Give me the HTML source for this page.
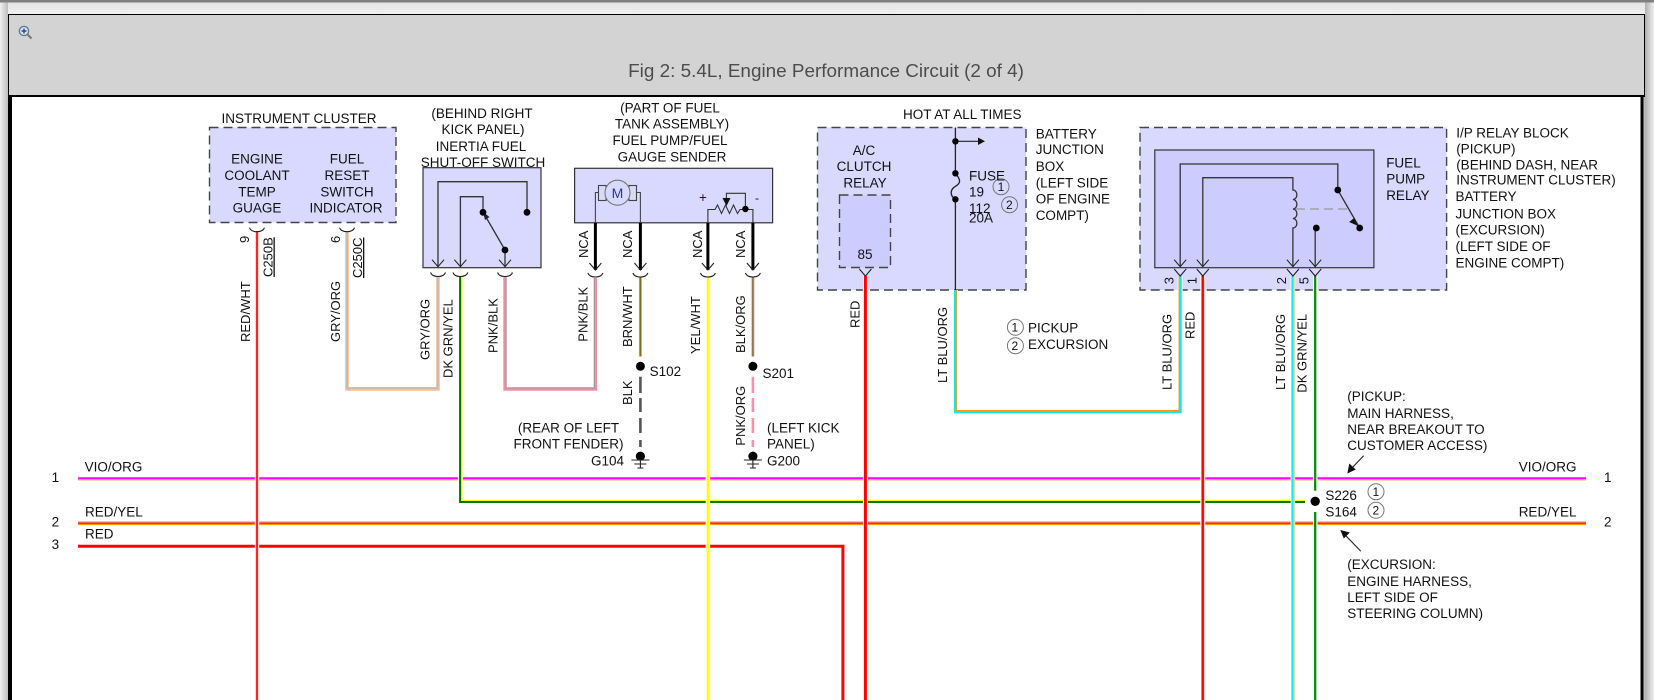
<!DOCTYPE html>
<html><head><meta charset="utf-8"><style>
html,body{margin:0;padding:0;width:1654px;height:700px;overflow:hidden;background:#ececec}
svg{position:absolute;left:0;top:0}
text{font-family:"Liberation Sans",Arial,sans-serif;font-size:13.5px;fill:#111}
.r text{font-size:13px}
.m{text-anchor:middle}
</style></head><body>
<svg width="1654" height="700" viewBox="0 0 1654 700" xmlns="http://www.w3.org/2000/svg">
<defs>
<linearGradient id="tg" x1="0" y1="0" x2="0" y2="1"><stop offset="0" stop-color="#e4e4e4"/><stop offset="1" stop-color="#f0f0f0"/></linearGradient>
<linearGradient id="lg" x1="0" y1="0" x2="1" y2="0"><stop offset="0" stop-color="#f0f0f0"/><stop offset="1" stop-color="#bdbdbd"/></linearGradient>
<linearGradient id="rg" x1="0" y1="0" x2="1" y2="0"><stop offset="0" stop-color="#b0b0b0"/><stop offset="1" stop-color="#f0f0f0"/></linearGradient>
<path id="arc" d="M-7.500 0Q-6 4 0 4Q6 4 7.500 0" fill="none" stroke="#222" stroke-width="1.100"/>
<path id="chev" d="M-6 -7L0 0L6 -7" fill="none" stroke="#222" stroke-width="1.100"/>
</defs>
<!-- chrome -->
<rect width="1654" height="2.500" fill="#808080"/>
<rect y="2.500" width="1654" height="11.500" fill="url(#tg)"/>
<rect y="2.500" width="8" height="697.500" fill="url(#lg)"/>
<rect x="1645" y="2.500" width="9" height="697.500" fill="url(#rg)"/>
<rect x="8" y="14" width="1637" height="686" fill="#000"/>
<rect x="9" y="15" width="1635" height="80" fill="#d3d3d3"/>
<rect x="12" y="97" width="1628.500" height="603" fill="#fff"/>
<rect x="1643.500" y="97" width="1.500" height="603" fill="#bbb"/>
<circle cx="24" cy="31" r="4.600" fill="#dfe6ee" stroke="#6b7a8a" stroke-width="1.400"/>
<path d="M21.500 31H26.500M24 28.500V33.500" stroke="#1c4f9c" stroke-width="1.500"/>
<path d="M27.500 34.500L31.500 38.500" stroke="#777" stroke-width="2"/>
<text x="826" y="77" class="m" style="font-size:18.900px;fill:#4c4c4c">Fig 2: 5.4L, Engine Performance Circuit (2 of 4)</text>

<!-- boxes -->
<g stroke="#444" stroke-width="1.400" stroke-dasharray="9 5" fill="#d9d9ff">
<rect x="209.500" y="127.500" width="186.500" height="95"/>
<rect x="817.500" y="127.500" width="208.500" height="162.500"/>
<rect x="1140" y="127.500" width="306.600" height="162.500"/>
<rect x="839.500" y="195" width="51" height="72.500" fill="#ccccff"/>
</g>
<g stroke="#333" stroke-width="1.200">
<rect x="423" y="167.700" width="118" height="100" fill="#d9d9ff"/>
<rect x="574.600" y="168.300" width="198" height="54.500" fill="#d9d9ff"/>
<rect x="1154.800" y="150" width="219.100" height="117.700" fill="#ccccff"/>
</g>

<!-- horizontal buses -->
<path d="M78 480H1586" stroke="#ffc89a" stroke-width="1.500"/>
<path d="M78 478.300H1586" stroke="#ff00ff" stroke-width="2.200"/>
<path d="M78 522.500H1586" stroke="#ff7a7a" stroke-width="2"/>
<path d="M78 524.300H1586" stroke="#ff9900" stroke-width="1.600"/>
<path d="M78 523.300H1586" stroke="#ee1100" stroke-width="1"/>
<path d="M78 546.300H842.900V700" fill="none" stroke="#ff0000" stroke-width="3"/>

<g fill="none">
<!-- green DK GRN/YEL -->
<path d="M460.400 277V501.700H1305" stroke="#fff" stroke-width="5"/>
<path d="M461.700 277V500.400H1305" stroke="#ffff00" stroke-width="1.400"/>
<path d="M460.100 277V502H1305" stroke="#007200" stroke-width="2"/>
<!-- gry/org U -->
<path d="M347 231V389H438V277" stroke="#fff" stroke-width="5"/>
<path d="M347 231V389H438V277" stroke="#f8bf8c" stroke-width="3.600"/>
<path d="M347 231V388H437.500V277" stroke="#bcbcbc" stroke-width="1.800"/>
<!-- pink U -->
<path d="M505 277V389H595.400V278" stroke="#f58ea4" stroke-width="3.400"/>
<path d="M506 277V388H594.400V278" stroke="#999" stroke-width="1"/>
<!-- RED/WHT -->
<path d="M257 231V700" stroke="#fff" stroke-width="4.500"/>
<path d="M257 231V700" stroke="#ff9a9a" stroke-width="2.800"/>
<path d="M257 231V700" stroke="#ff0000" stroke-width="1.500"/>
<!-- yellow -->
<path d="M707.900 277V700" stroke="#fff" stroke-width="4.500"/>
<path d="M707.900 277V700" stroke="#ffff00" stroke-width="2.400"/>
<!-- brn/wht, blk/org -->
<path d="M640.400 277V356.500" stroke="#d8cfa0" stroke-width="3"/>
<path d="M640.400 277V356.500" stroke="#856a1a" stroke-width="1.800"/>
<path d="M752.900 277V356.500" stroke="#e4b078" stroke-width="3"/>
<path d="M752.900 277V356.500" stroke="#6f6f5f" stroke-width="1.400"/>
<!-- dashes -->
<path d="M640.400 376.700V393M640.400 398V412M640.400 418V433M640.400 440V447" stroke="#555" stroke-width="2.600"/>
<path d="M752.900 376.700V393M752.900 398V412M752.900 418V433M752.900 440V447" stroke="#ff8fa8" stroke-width="2.600"/>
<!-- red -->
<path d="M865.400 276V700" stroke="#fff" stroke-width="5"/>
<path d="M865.400 276V700" stroke="#ff0000" stroke-width="3"/>
<path d="M1202.800 276V700" stroke="#fff" stroke-width="5"/>
<path d="M1202.800 276V700" stroke="#ff8a8a" stroke-width="3.200"/>
<path d="M1202.800 276V700" stroke="#ff0000" stroke-width="2.200"/>
<!-- lt blu/org U -->
<path d="M955.400 290V411.700H1180.200V276" stroke="#fff" stroke-width="5"/>
<path d="M955.400 290V411.700H1180.200V276" stroke="#00f0f0" stroke-width="3"/>
<path d="M956.400 290V410.500H1179 V276" stroke="#ff9a20" stroke-width="1"/>
<!-- lt blu/org right -->
<path d="M1292.900 276V700" stroke="#fff" stroke-width="4.500"/>
<path d="M1293.300 276V700" stroke="#f0c890" stroke-width="3"/>
<path d="M1292.400 276V700" stroke="#00f4f4" stroke-width="2"/>
<!-- green right -->
<path d="M1315.200 276V490.700M1315.200 512V700" stroke="#fff" stroke-width="4.500"/>
<path d="M1315.200 276V490.700M1315.200 512V700" stroke="#008a00" stroke-width="2.200"/>
</g>

<!-- thick NCA -->
<g stroke="#000" stroke-width="3" fill="none">
<path d="M595.400 222.800V270M640.400 222.800V270M707.900 222.800V270M752.900 222.800V270"/>
</g>
<g>
<use href="#arc" x="257" y="227.700"/><use href="#arc" x="347" y="227.700"/>
<use href="#arc" x="438" y="272.500"/><use href="#arc" x="460.400" y="272.500"/><use href="#arc" x="505" y="272.500"/>
<use href="#arc" x="595.400" y="273"/><use href="#arc" x="640.400" y="273"/><use href="#arc" x="707.900" y="273"/><use href="#arc" x="752.900" y="273"/>
<use href="#chev" x="595.400" y="270"/><use href="#chev" x="640.400" y="270"/><use href="#chev" x="707.900" y="270"/><use href="#chev" x="752.900" y="270"/>
<use href="#chev" x="438" y="266.700"/><use href="#chev" x="460.400" y="266.700"/><use href="#chev" x="505" y="266.700"/>
<use href="#chev" x="865.400" y="276"/>
<use href="#chev" x="1180.200" y="266.700"/><use href="#chev" x="1202.800" y="266.700"/><use href="#chev" x="1292.900" y="266.700"/><use href="#chev" x="1315.200" y="266.700"/>
<use href="#chev" x="1180.200" y="276"/><use href="#chev" x="1202.800" y="276"/><use href="#chev" x="1292.900" y="276"/><use href="#chev" x="1315.200" y="276"/>
</g>

<!-- inertia internals -->
<g fill="none" stroke="#333" stroke-width="1.300">
<path d="M438 266V181.700H527V212"/>
<path d="M460.400 266V196.700H483V212"/>
<path d="M505 250V266"/>
<path d="M505 250L483 212"/>
</g>
<path d="M483 212L489.500 217L485 220Z" fill="#222"/>
<g fill="#000"><circle cx="527" cy="212.300" r="3.400"/><circle cx="483" cy="212.300" r="3.400"/><circle cx="505" cy="250" r="3.400"/></g>

<!-- pump motor -->
<g fill="none" stroke="#444" stroke-width="1.100">
<path d="M595.400 222.800V192.500H599M640.400 222.800V192.500H636"/>
<rect x="598.500" y="185.500" width="7.500" height="15"/><rect x="629" y="185.500" width="7.500" height="15"/>
</g>
<circle cx="617.500" cy="192.700" r="12.500" fill="#d9d9ff" stroke="#777" stroke-width="1.100"/>
<text x="617.500" y="198" class="m" style="font-size:14px;fill:#2a3a80">M</text>
<text x="703" y="202" class="m" style="fill:#3a0a2a">+</text>
<text x="757" y="202" class="m" style="font-size:12px">-</text>
<g fill="none" stroke="#333" stroke-width="1.100">
<path d="M707.900 222.800V209.500H715L717.500 205L721.500 213.500L725.500 205L729.500 213.500L733.500 205L737.500 213.500L740 209.500H752.900V222.800"/>
<path d="M745.400 209V193.300H726.400V203"/>
</g>
<path d="M722.500 198H730.500L726.500 206Z" fill="#111"/>
<circle cx="745.400" cy="209" r="3.200" fill="#000"/>

<!-- splices & grounds -->
<g fill="#000">
<circle cx="640.400" cy="366.300" r="4.500"/><circle cx="752.900" cy="366.300" r="4.500"/>
<circle cx="640.400" cy="456.200" r="4.600"/><circle cx="752.900" cy="456.200" r="4.600"/>
<circle cx="1315.200" cy="501.300" r="4.700"/>
</g>
<g stroke="#222" stroke-width="1.100">
<path d="M640.400 460V468M631.400 460H649.400M634.400 464H646.400M637.400 468H643.400"/>
<path d="M752.900 460V468M743.900 460H761.900M746.900 464H758.900M749.900 468H755.900"/>
</g>

<!-- battery junction internals -->
<path d="M955.400 127.500V173.300C961 180 961 183 955.400 186.300C949.500 190 950 196 955.400 199.300V290" fill="none" stroke="#222" stroke-width="1.300"/>
<path d="M955.400 141.300H980" stroke="#222" stroke-width="1.200"/>
<path d="M978 137.500L985 141.300L978 145Z" fill="#111"/>
<g fill="#000"><circle cx="955.400" cy="141.300" r="3.200"/><circle cx="955.400" cy="173.300" r="3.200"/><circle cx="955.400" cy="199.300" r="3.200"/></g>
<g fill="none" stroke="#777" stroke-width="1">
<circle cx="1001" cy="186.700" r="8"/><circle cx="1009.600" cy="204.700" r="8"/>
<circle cx="1015.400" cy="327.300" r="8"/><circle cx="1015.400" cy="345.700" r="8"/>
<circle cx="1376" cy="491.700" r="8"/><circle cx="1376" cy="510.300" r="8"/>
</g>

<!-- relay internals -->
<g fill="none" stroke="#333" stroke-width="1.300">
<path d="M1180.200 266V164H1337.800V190"/>
<path d="M1202.800 266V177.700H1292.900V190A4 4.750 0 1 1 1292.900 199.500A4 4.750 0 1 1 1292.900 209A4 4.750 0 1 1 1292.900 218.500A4 4.750 0 1 1 1292.900 228V266"/>
<path d="M1315.200 228V266"/>
<path d="M1337.800 190L1359.700 228"/>
</g>
<path d="M1296 209H1349" stroke="#999" stroke-width="1.300" stroke-dasharray="9 5"/>
<path d="M1354.200 218L1358.200 226L1349.200 222Z" fill="#111"/>
<g fill="#000"><circle cx="1337.800" cy="190" r="3.400"/><circle cx="1359.700" cy="228" r="3.400"/><circle cx="1316.300" cy="228" r="3.400"/></g>

<!-- annotation arrows -->
<path d="M1363.600 455.700L1350 470" stroke="#222" stroke-width="1.100"/>
<path d="M1347.300 473.500L1349.300 463.500L1355.800 469.500Z" fill="#111"/>
<path d="M1360.800 551.300L1343.200 533" stroke="#222" stroke-width="1.100"/>
<path d="M1340.300 530L1349.800 532.500L1343.800 538.500Z" fill="#111"/>

<!-- labels -->
<text x="299" y="123" class="m">INSTRUMENT CLUSTER</text>
<g class="m" text-anchor="middle">
<text x="257" y="163.700">ENGINE</text><text x="257" y="180">COOLANT</text><text x="257" y="196.700">TEMP</text><text x="257" y="212.700">GUAGE</text>
<text x="347" y="163.700">FUEL</text><text x="347" y="180">RESET</text><text x="347" y="196.700">SWITCH</text><text x="346" y="212.700">INDICATOR</text>
<text x="482" y="118">(BEHIND RIGHT</text><text x="483" y="134">KICK PANEL)</text><text x="481" y="151">INERTIA FUEL</text><text x="483" y="167">SHUT-OFF SWITCH</text>
<text x="670" y="112.700">(PART OF FUEL</text><text x="672" y="128.700">TANK ASSEMBLY)</text><text x="670" y="145">FUEL PUMP/FUEL</text><text x="672" y="161.700">GAUGE SENDER</text>
<text x="864" y="155">A/C</text><text x="864" y="171">CLUTCH</text><text x="865" y="187.700">RELAY</text><text x="865" y="259">85</text>
<text x="568.500" y="432.700">(REAR OF LEFT</text><text x="568.500" y="448.700">FRONT FENDER)</text>
</g>
<text x="903" y="119">HOT AT ALL TIMES</text>
<text x="969" y="180.700">FUSE</text><text x="969" y="196.700">19</text><text x="969" y="213">112</text><text x="969" y="222.700">20A</text>
<text x="1035.700" y="138.300">BATTERY</text><text x="1035.700" y="154">JUNCTION</text><text x="1035.700" y="171">BOX</text><text x="1035.700" y="187.300">(LEFT SIDE</text><text x="1035.700" y="203.300">OF ENGINE</text><text x="1035.700" y="220">COMPT)</text>
<text x="1386.200" y="167.300">FUEL</text><text x="1386.200" y="183.300">PUMP</text><text x="1386.200" y="200">RELAY</text>
<text x="1456.200" y="137.300">I/P RELAY BLOCK</text><text x="1456.200" y="153.300">(PICKUP)</text><text x="1456.200" y="169.300">(BEHIND DASH, NEAR</text><text x="1456.200" y="184.300">INSTRUMENT CLUSTER)</text><text x="1455.500" y="201">BATTERY</text><text x="1455.500" y="218.300">JUNCTION BOX</text><text x="1455.500" y="234.300">(EXCURSION)</text><text x="1455.500" y="251">(LEFT SIDE OF</text><text x="1455.500" y="267.300">ENGINE COMPT)</text>
<text x="1028" y="332.700">PICKUP</text><text x="1028" y="349">EXCURSION</text>
<text x="1011.500" y="331.500" style="font-size:12px">1</text><text x="1011.500" y="350" style="font-size:12px">2</text>
<text x="997.600" y="191" style="font-size:12px">1</text><text x="1006" y="209" style="font-size:12px">2</text>
<text x="1372.500" y="496" style="font-size:12px">1</text><text x="1372.500" y="514.500" style="font-size:12px">2</text>
<text x="649.600" y="376">S102</text><text x="762.500" y="378">S201</text>
<text x="591" y="465.700">G104</text><text x="767" y="465.700">G200</text>
<text x="767" y="432.700">(LEFT KICK</text><text x="767" y="448.700">PANEL)</text>
<text x="84.600" y="471.700">VIO/ORG</text><text x="85" y="516.700">RED/YEL</text><text x="85" y="538.700">RED</text>
<text x="1518.700" y="471.700">VIO/ORG</text><text x="1518.700" y="516.700">RED/YEL</text>
<text x="55.400" y="482" class="m">1</text><text x="55.400" y="526.700" class="m">2</text><text x="55.400" y="549" class="m">3</text>
<text x="1607.800" y="482" class="m">1</text><text x="1607.800" y="526.700" class="m">2</text>
<text x="1347.300" y="401">(PICKUP:</text><text x="1347.300" y="418">MAIN HARNESS,</text><text x="1347.300" y="434">NEAR BREAKOUT TO</text><text x="1347.300" y="450">CUSTOMER ACCESS)</text>
<text x="1325.400" y="500">S226</text><text x="1325.400" y="516.700">S164</text>
<text x="1347.300" y="569">(EXCURSION:</text><text x="1347.300" y="586">ENGINE HARNESS,</text><text x="1347.300" y="602">LEFT SIDE OF</text><text x="1347.300" y="618">STEERING COLUMN)</text>

<!-- rotated labels -->
<g class="r">
<text transform="translate(249 243) rotate(-90)">9</text>
<text transform="translate(340 243) rotate(-90)">6</text>
<text transform="translate(272.500 277) rotate(-90)" text-decoration="underline">C250B</text>
<text transform="translate(362 278) rotate(-90)" text-decoration="underline">C250C</text>
<text transform="translate(250 342) rotate(-90)">RED/WHT</text>
<text transform="translate(340 342) rotate(-90)">GRY/ORG</text>
<text transform="translate(429.600 360) rotate(-90)">GRY/ORG</text>
<text transform="translate(452.500 378) rotate(-90)">DK GRN/YEL</text>
<text transform="translate(497.500 353) rotate(-90)">PNK/BLK</text>
<text transform="translate(588.200 258) rotate(-90)">NCA</text>
<text transform="translate(632 258) rotate(-90)">NCA</text>
<text transform="translate(702 258) rotate(-90)">NCA</text>
<text transform="translate(745 258) rotate(-90)">NCA</text>
<text transform="translate(587.500 341.700) rotate(-90)">PNK/BLK</text>
<text transform="translate(632 347) rotate(-90)">BRN/WHT</text>
<text transform="translate(700 354) rotate(-90)">YEL/WHT</text>
<text transform="translate(745 353) rotate(-90)">BLK/ORG</text>
<text transform="translate(632 405) rotate(-90)">BLK</text>
<text transform="translate(745 445.700) rotate(-90)">PNK/ORG</text>
<text transform="translate(859.600 328) rotate(-90)">RED</text>
<text transform="translate(947 383) rotate(-90)">LT BLU/ORG</text>
<text transform="translate(1171.700 390) rotate(-90)">LT BLU/ORG</text>
<text transform="translate(1194.700 339) rotate(-90)">RED</text>
<text transform="translate(1284.800 390) rotate(-90)">LT BLU/ORG</text>
<text transform="translate(1306.700 392.700) rotate(-90)">DK GRN/YEL</text>
<text transform="translate(1173.500 284.300) rotate(-90)">3</text>
<text transform="translate(1196.500 284.300) rotate(-90)">1</text>
<text transform="translate(1286.200 284.300) rotate(-90)">2</text>
<text transform="translate(1308.500 284.300) rotate(-90)">5</text>
</g>
</svg>
</body></html>
